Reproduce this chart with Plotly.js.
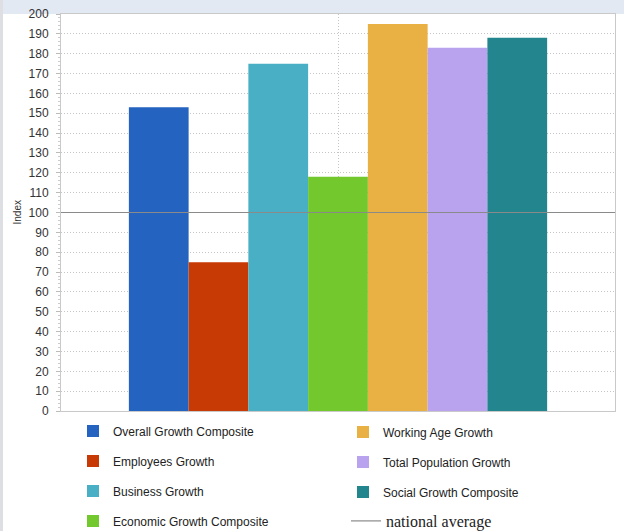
<!DOCTYPE html>
<html>
<head>
<meta charset="utf-8">
<script src="https://cdn.plot.ly/plotly-3.0.1.min.js"></script>
<style>html,body{margin:0;padding:0;background:#fff;}#chart{width:624px;height:531px;}</style>
</head>
<body>
<div id="chart"></div>
<script>
const seriesNames = ["Overall Growth Composite","Employees Growth","Business Growth","Economic Growth Composite","Working Age Growth","Total Population Growth","Social Growth Composite"];
const seriesValues = [153, 75, 175, 118, 195, 183, 188];
const seriesColors = ["#2563c0","#c83a05","#48afc4","#72c82c","#e9b044","#b9a3ee","#23868f"];
const legendRanks = [1, 3, 5, 7, 2, 4, 6];
const nationalAverage = 100;
const nationalLabel = "national average";
const yAxisLabel = "Index";
const yTicks = [0,10,20,30,40,50,60,70,80,90,100,110,120,130,140,150,160,170,180,190,200];

const W = 624, H = 531, ml = 61, mr = 9, mt = 14, mb = 120;
const pw = W - ml - mr, ph = H - mt - mb;
function cx(p){ return p / W; }
function cy(p){ return 1 - p / H; }
const legendPix = [[73,431],[73,461],[73,491],[73,521],[343,432],[343,462],[343,492]];

const traces = [];
const layout = {
  width: W, height: H,
  margin: {l: ml, r: mr, t: mt, b: mb, autoexpand: false},
  paper_bgcolor: "#ffffff",
  plot_bgcolor: "#ffffff",
  barmode: "group",
  bargap: 0.245,
  bargroupgap: 0,
  font: {family: "Liberation Sans, Arial, sans-serif", color: "#333"},
  xaxis: {
    type: "category", range: [-0.5, 0.5], showticklabels: false,
    showgrid: true, gridcolor: "#c4c4c4", griddash: "1px,2px", gridwidth: 1,
    showline: true, linecolor: "#c9c9c9", mirror: true, ticks: "", zeroline: false, fixedrange: true
  },
  xaxis2: {overlaying: "x", anchor: "y2", range: [0, 1], visible: false, fixedrange: true},
  yaxis2: {overlaying: "y", anchor: "x2", range: [0, 200], visible: false, fixedrange: true},
  yaxis: {
    range: [0, 200], tickvals: yTicks, ticktext: yTicks.map(String),
    tickfont: {size: 12, color: "#333"},
    showgrid: true, gridcolor: "#c4c4c4", griddash: "1px,2px", gridwidth: 1,
    showline: true, linecolor: "#c9c9c9", mirror: true,
    ticks: "outside", ticklen: 4, tickcolor: "#bbb", ticklabelstandoff: 5,
    minor: {dtick: 2, ticks: "outside", ticklen: 2, tickcolor: "#ccc", showgrid: false},
    zeroline: false, fixedrange: true, automargin: false
  },
  annotations: [
    {text: yAxisLabel, xref: "paper", yref: "paper", x: (17 - ml) / pw, y: 0.5,
     textangle: -90, showarrow: false, font: {size: 10, color: "#333"}, xanchor: "center", yanchor: "middle"}
  ],
  shapes: [
    {type: "rect", xref: "paper", yref: "paper", x0: -ml/pw, x1: 1 + mr/pw, y0: 1, y1: 1 + mt/ph, fillcolor: "#e3e9f3", line: {width: 0}, layer: "below"},
    {type: "rect", xref: "paper", yref: "paper", x0: -ml/pw, x1: -ml/pw + 3/pw, y0: -mb/ph, y1: 1 + mt/ph, fillcolor: "#dedfe2", line: {width: 0}, layer: "below"}
  ],
  showlegend: true
};

seriesNames.forEach((name, i) => {
  const key = i === 0 ? "legend" : "legend" + (i + 1);
  traces.push({
    type: "bar", name: name, x: [""], y: [seriesValues[i]],
    marker: {color: seriesColors[i], line: {width: 0}},
    legend: key, legendrank: legendRanks[i], hoverinfo: "name+y"
  });
  layout[key] = {
    xref: "container", yref: "container",
    x: cx(legendPix[i][0]), y: cy(legendPix[i][1]),
    xanchor: "left", yanchor: "middle", bgcolor: "rgba(0,0,0,0)",
    font: {size: 12, color: "#222", family: "Liberation Sans, Arial, sans-serif"}
  };
});

traces.push({
  type: "scatter", mode: "lines", name: nationalLabel,
  x: [0, 1], y: [nationalAverage, nationalAverage], xaxis: "x2", yaxis: "y2",
  line: {color: "#8a8a8a", width: 1.2}, legend: "legend8", hoverinfo: "name+y"
});
layout.legend8 = {
  xref: "container", yref: "container",
  x: cx(346), y: cy(521), xanchor: "left", yanchor: "middle", bgcolor: "rgba(0,0,0,0)",
  font: {size: 16, color: "#222", family: "Liberation Serif, Times New Roman, serif"},
  itemwidth: 30
};

Plotly.newPlot("chart", traces, layout, {displayModeBar: false, staticPlot: true});
</script>
</body>
</html>
